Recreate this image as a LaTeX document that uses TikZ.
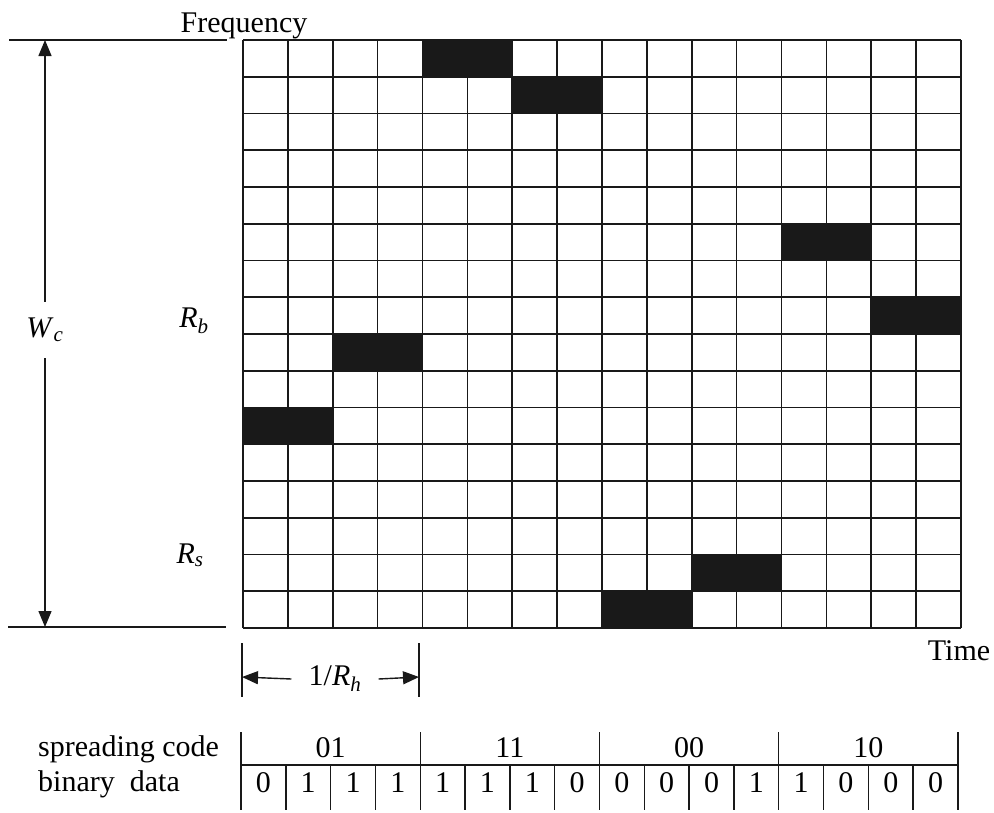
\documentclass[tikz,border=0pt]{standalone}
\usepackage{fontspec}
\setmainfont{Liberation Serif}
\usetikzlibrary{arrows.meta,positioning}

\begin{document}
\begin{tikzpicture}[x=1pt, y=-1pt,
  lbl/.style={font=\fontsize{30}{34}\selectfont, inner sep=0pt},
  gridline/.style={line width=1.6pt, draw=black!90},
  hop/.style={fill=black!90},
  rule/.style={line width=1.4pt, draw=black!90},
  arr/.style={-{Triangle[length=16pt, width=13pt]}, line width=1.4pt, draw=black!90}
]
  \useasboundingbox (0,0) rectangle (994,812);

  \begin{scope}[shift={(243,40)}, x=44.875pt, y=-36.75pt]
    \fill[hop] (4,0) rectangle (6,1);
    \fill[hop] (6,1) rectangle (8,2);
    \fill[hop] (12,5) rectangle (14,6);
    \fill[hop] (14,7) rectangle (16,8);
    \fill[hop] (2,8) rectangle (4,9);
    \fill[hop] (0,10) rectangle (2,11);
    \fill[hop] (10,14) rectangle (12,15);
    \fill[hop] (8,15) rectangle (10,16);
    \foreach \i in {0,...,16} {
      \draw[gridline] (\i,0) -- (\i,16);
      \draw[gridline] (0,\i) -- (16,\i);
    }
  \end{scope}

  \node[lbl, anchor=base] (freq) at (244,32) {Frequency};
  \node[lbl, anchor=base] (time) at (959,660) {Time};
  \node[lbl, anchor=base] (rb) at (194,327) {\textit{R}\textsubscript{\textit{b}}};
  \node[lbl, anchor=base] (rs) at (190,563) {\textit{R}\textsubscript{\textit{s}}};

  \draw[rule] (9,40) -- (227,40);
  \draw[rule] (8,627) -- (226,627);
  \coordinate (ftop) at (45,40);
  \coordinate (fbot) at (45,627);
  \node[lbl, minimum height=56pt] (wc) at (45,330) {\textit{W}\textsubscript{\textit{c}}};
  \draw[arr] (wc.north) -- (ftop);
  \draw[arr] (wc.south) -- (fbot);

  \draw[rule] (242,643) -- (242,697);
  \draw[rule] (419,643) -- (419,697);
  \coordinate (hl) at (242,677);
  \coordinate (hr) at (419,677);
  \node[lbl, inner xsep=17pt] (rh) at (335,679) {1/\textit{R}\textsubscript{\textit{h}}};
  \draw[arr] (rh.west) -- (hl);
  \draw[arr] (rh.east) -- (hr);

  \node[lbl, anchor=base west] (spread) at (38,756) {spreading code};
  \node[lbl, anchor=base west] (data) at (38,791) {binary\ \ data};

  \begin{scope}[shift={(241,0)}, x=44.81pt]
    \draw[rule] (0,765) -- (16,765);
    \foreach \i in {0,4,8,12,16}
      \draw[rule] (\i,732) -- (\i,810);
    \foreach \i in {1,2,3,5,6,7,9,10,11,13,14,15}
      \draw[rule] (\i,765) -- (\i,810);
    \foreach \code [count=\k] in {01,11,00,10}
      \node[lbl, anchor=base] (sc\k) at (4*\k-2,757) {\code};
    \foreach \bit [count=\k] in {0,1,1,1,1,1,1,0,0,0,0,1,1,0,0,0}
      \node[lbl, anchor=base] (bd\k) at (\k-0.5,792) {\bit};
  \end{scope}
\end{tikzpicture}
\end{document}
